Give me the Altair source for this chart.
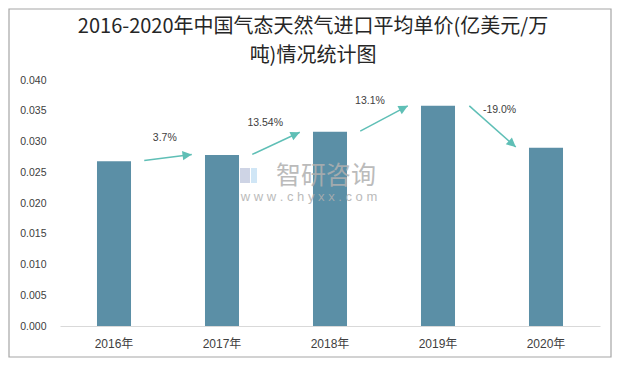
import altair as alt
import numpy as np
import pandas as pd

# ---- data ----
years = ["2016年", "2017年", "2018年", "2019年", "2020年"]
prices = [0.0268, 0.0278, 0.0316, 0.0358, 0.0290]

growth_labels = ["3.7%", "13.54%", "13.1%", "-19.0%"]
arrow_x0 = [0.28, 1.28, 2.28, 3.29]
arrow_x1 = [0.72, 1.72, 2.72, 3.72]
arrow_y0 = [0.0269, 0.0279, 0.0317, 0.0358]
arrow_y1 = [0.0279, 0.0315, 0.0358, 0.0291]
label_x = [0.47, 1.40, 2.37, 3.57]
label_y = [0.0305, 0.0330, 0.0366, 0.0351]

y_ticks = [0.0, 0.005, 0.010, 0.015, 0.020, 0.025, 0.030, 0.035, 0.040]

title_line1 = "2016-2020年中国气态天然气进口平均单价(亿美元/万"
title_line2 = "吨)情况统计图"

# ---- layout / style ----
PLOT_W, PLOT_H = 540, 246
Y_MAX = 0.04
BAR_COLOR = "#5b8fa6"
ARROW_COLOR = "#5fbfb6"
TEXT_COLOR = "#404040"
LABEL_FONT = "Liberation Sans, Noto Sans CJK SC"

bar_df = pd.DataFrame({"year": years, "price": prices})

px_x = PLOT_W / len(years)
px_y = PLOT_H / Y_MAX
ax0, ax1 = np.array(arrow_x0), np.array(arrow_x1)
ay0, ay1 = np.array(arrow_y0), np.array(arrow_y1)
angles = np.degrees(np.arctan2(-(ay1 - ay0) * px_y, (ax1 - ax0) * px_x)) % 360

arrow_df = pd.DataFrame({
    "x0": arrow_x0, "x1": arrow_x1, "y0": arrow_y0, "y1": arrow_y1,
    "angle": angles, "label": growth_labels, "lx": label_x, "ly": label_y,
})

one = pd.DataFrame({"k": [0]})

yscale = alt.Scale(domain=[0, Y_MAX], nice=False, zero=True)
xq = alt.Scale(domain=[-0.5, len(years) - 0.5], nice=False, zero=False)

# frame around the whole chart
frame = alt.Chart(one).mark_rect(fill=None, stroke="#a6a6a6", strokeWidth=1.2).encode(
    x=alt.value(-51), x2=alt.value(551), y=alt.value(-71), y2=alt.value(277)
)

# title (two lines)
title1 = alt.Chart(one).mark_text(
    text=title_line1, font="Noto Sans CJK SC", fontSize=20, color="#262626",
    align="center", baseline="middle"
).encode(x=alt.value(253), y=alt.value(-53))
title2 = alt.Chart(one).mark_text(
    text=title_line2, font="Noto Sans CJK SC", fontSize=20, color="#262626",
    align="center", baseline="middle"
).encode(x=alt.value(253), y=alt.value(-24))

# watermark
wm_logo1 = alt.Chart(one).mark_rect(color="#c6cde0", opacity=0.85).encode(
    x=alt.value(180), x2=alt.value(190), y=alt.value(88), y2=alt.value(103)
)
wm_logo2 = alt.Chart(one).mark_rect(color="#c8e2f5", opacity=0.85).encode(
    x=alt.value(191), x2=alt.value(197), y=alt.value(88), y2=alt.value(103)
)
wm_text = alt.Chart(one).mark_text(
    text="智研咨询", font="Noto Sans CJK SC", fontSize=25, color="#b0b0b0", opacity=0.85,
    align="center", baseline="middle"
).encode(x=alt.value(266), y=alt.value(96))
wm_url = alt.Chart(one).mark_text(
    text="w w w . c h y x x . c o m", font="Liberation Sans", fontSize=13, color="#b0b0b0", opacity=0.85,
    align="center", baseline="middle"
).encode(x=alt.value(249), y=alt.value(117))

bars = alt.Chart(bar_df).mark_bar(color=BAR_COLOR).encode(
    x=alt.X(
        "year:N", sort=years,
        scale=alt.Scale(paddingInner=0.685, paddingOuter=0.3425),
        axis=alt.Axis(
            title=None, labelAngle=0, labelFont=LABEL_FONT, labelFontSize=12, labelColor=TEXT_COLOR,
            domainColor="#d9d9d9", domainWidth=1, ticks=False, labelPadding=12,
        ),
    ),
    y=alt.Y(
        "price:Q", scale=yscale,
        axis=alt.Axis(
            title=None, values=y_ticks, format=".3f", grid=False, domain=False, ticks=False,
            labelPadding=14, labelFont="Liberation Sans", labelFontSize=10.5, labelColor=TEXT_COLOR,
        ),
    ),
)

arrow_lines = alt.Chart(arrow_df).mark_rule(color=ARROW_COLOR, strokeWidth=1.5).encode(
    x=alt.X("x0:Q", scale=xq, axis=None),
    x2="x1:Q",
    y=alt.Y("y0:Q", scale=yscale, axis=None),
    y2="y1:Q",
)
arrow_heads = alt.Chart(arrow_df).mark_point(
    shape="M0,0L-1,-0.5L-1,0.5Z", filled=True, size=340, color=ARROW_COLOR, opacity=1
).encode(
    x=alt.X("x1:Q", scale=xq, axis=None),
    y=alt.Y("y1:Q", scale=yscale, axis=None),
    angle=alt.Angle("angle:Q", scale=None),
)
arrow_labels = alt.Chart(arrow_df).mark_text(
    font="Liberation Sans", fontSize=10.5, color=TEXT_COLOR, align="center", baseline="middle"
).encode(
    x=alt.X("lx:Q", scale=xq, axis=None),
    y=alt.Y("ly:Q", scale=yscale, axis=None),
    text="label:N",
)

annotations = alt.layer(arrow_lines, arrow_heads, arrow_labels)

chart = alt.layer(
    frame, title1, title2, bars, wm_logo1, wm_logo2, wm_text, wm_url, annotations
).resolve_scale(x="independent").resolve_axis(y="independent").properties(
    width=PLOT_W,
    height=PLOT_H,
    autosize=alt.AutoSizeParams(type="none"),
    padding={"left": 52, "top": 72, "right": 12, "bottom": 32},
).configure(background="white", view=alt.ViewConfig(stroke=None))

chart.save("out.html", embed_options={"renderer": "svg", "actions": False})
